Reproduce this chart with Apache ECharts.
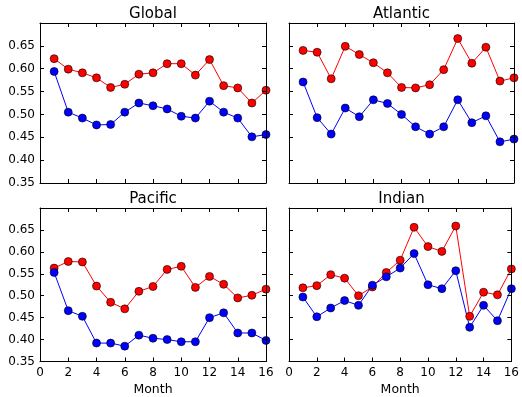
<!DOCTYPE html>
<html>
<head>
<meta charset="utf-8">
<script src="https://cdn.jsdelivr.net/npm/echarts@6/dist/echarts.min.js"></script>
<style>html,body{margin:0;padding:0;background:#fff}#c{width:522px;height:397px}</style>
</head>
<body>
<div id="c"></div>
<script>
const months = [1,2,3,4,5,6,7,8,9,10,11,12,13,14,15,16];
const panelTitles = ['Global','Atlantic','Pacific','Indian'];
const globalRed  = [0.622,0.599,0.591,0.580,0.559,0.566,0.588,0.591,0.611,0.611,0.586,0.620,0.563,0.558,0.525,0.553];
const globalBlue = [0.594,0.505,0.492,0.477,0.478,0.505,0.525,0.519,0.512,0.496,0.492,0.529,0.505,0.492,0.451,0.456];
const atlanticRed  = [0.640,0.636,0.578,0.649,0.631,0.613,0.591,0.559,0.558,0.565,0.598,0.666,0.612,0.647,0.573,0.580];
const atlanticBlue = [0.571,0.493,0.457,0.514,0.495,0.532,0.524,0.500,0.473,0.457,0.473,0.532,0.482,0.497,0.440,0.446];
const pacificRed  = [0.563,0.578,0.577,0.522,0.485,0.470,0.510,0.521,0.560,0.567,0.519,0.544,0.526,0.495,0.501,0.515];
const pacificBlue = [0.553,0.466,0.453,0.392,0.392,0.385,0.410,0.403,0.400,0.395,0.395,0.450,0.461,0.415,0.415,0.398];
const indianRed  = [0.518,0.523,0.548,0.540,0.500,0.520,0.553,0.581,0.656,0.612,0.601,0.659,0.453,0.508,0.502,0.561];
const indianBlue = [0.497,0.452,0.472,0.489,0.478,0.524,0.543,0.563,0.596,0.525,0.516,0.557,0.428,0.478,0.443,0.516];
const xTicks = {min:0, max:16, interval:2};
const yTicks = {min:0.35, max:0.70, interval:0.05};

const redSets = [globalRed, atlanticRed, pacificRed, indianRed];
const blueSets = [globalBlue, atlanticBlue, pacificBlue, indianBlue];

const FONT = 'DejaVu Sans';
const grids = [
  {left:40, top:23, width:226, height:160},
  {left:289, top:23, width:225, height:160},
  {left:40, top:208, width:226, height:159},
  {left:289, top:208, width:225, height:159}
];
const axisLine = {show:true, onZero:false, lineStyle:{color:'#000', width:1}};
const axisTick = {show:true, inside:true, length:4, lineStyle:{color:'#000', width:1}};

const xAxis = [], yAxis = [], series = [], title = [];
grids.forEach((g, i) => {
  const bottomRow = i >= 2, leftCol = i % 2 === 0;
  xAxis.push({
    type:'value', gridIndex:i, position:'bottom', min:xTicks.min, max:xTicks.max, interval:xTicks.interval,
    axisLine, axisTick, splitLine:{show:false}, z:5,
    axisLabel:{show:bottomRow, color:'#000', fontSize:12, fontFamily:FONT, margin:5},
    name: bottomRow ? 'Month' : '', nameLocation:'middle', nameGap:21.5,
    nameTextStyle:{color:'#000', fontSize:12.5, fontFamily:FONT}
  });
  xAxis.push({
    type:'value', gridIndex:i, position:'top', min:xTicks.min, max:xTicks.max, interval:xTicks.interval,
    axisLine, axisTick, splitLine:{show:false}, axisLabel:{show:false}, z:5
  });
  yAxis.push({
    type:'value', gridIndex:i, position:'left', min:yTicks.min, max:yTicks.max, interval:yTicks.interval,
    axisLine, axisTick, splitLine:{show:false}, z:5,
    axisLabel:{show:leftCol, color:'#000', fontSize:12, fontFamily:FONT, margin:5,
      formatter: v => v > 0.69 ? '' : v.toFixed(2)}
  });
  yAxis.push({
    type:'value', gridIndex:i, position:'right', min:yTicks.min, max:yTicks.max, interval:yTicks.interval,
    axisLine, axisTick, splitLine:{show:false}, axisLabel:{show:false}, z:5
  });
  title.push({
    text: panelTitles[i], left: g.left + g.width/2, top: g.top - 16, textAlign:'center', padding:0,
    textStyle:{color:'#000', fontSize:15, fontWeight:'normal', fontFamily:FONT}
  });
  [[redSets[i], '#ff0000'], [blueSets[i], '#0000ff']].forEach(([vals, col]) => {
    series.push({
      type:'line', xAxisIndex:2*i, yAxisIndex:2*i,
      data: months.map((m, k) => [m, vals[k]]),
      symbol:'circle', symbolSize:8, showAllSymbol:true,
      lineStyle:{color:col, width:1},
      itemStyle:{color:col, borderColor:'#000', borderWidth:0.6},
      emphasis:{disabled:true}, animation:false, clip:true
    });
  });
});

const chart = echarts.init(document.getElementById('c'), null, {renderer:'canvas'});
chart.setOption({backgroundColor:'#fff', animation:false, title, grid:grids, xAxis, yAxis, series});
</script>
</body>
</html>
